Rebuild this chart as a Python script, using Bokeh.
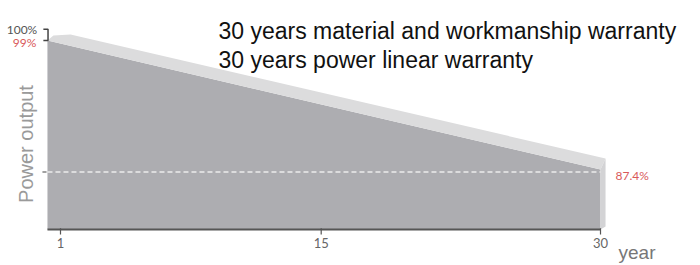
import math
from bokeh.plotting import figure
from bokeh.models import Range1d
from bokeh.core.properties import value
from bokeh.embed import file_html
from bokeh.resources import INLINE

# ---- data ----
tick_years = [1, 15, 30]
tick_labels = ["1", "15", "30"]
edge_year = 0.3          # left edge of the drawn block
end_year = 30
start_power = 99.0       # %
top_power = 100.0        # %
end_power = 87.4         # % guaranteed at year 30
base_power = 82.33       # bottom of the block (axis level)

# block faces (front, top bevel, right bevel)
front_x = [edge_year, end_year, end_year, edge_year]
front_y = [start_power, 87.62, base_power, base_power]
top_x = [edge_year, 0.62, 1.54, 30.27, end_year]
top_y = [start_power, 99.44, 99.53, 88.59, 87.62]
right_x = [end_year, 30.27, 30.27, end_year]
right_y = [87.62, 88.59, 82.59, base_power]

lines_text = ["30 years material and workmanship warranty",
              "30 years power linear warranty"]

# scale: 1 year = 18.621 px, 1 % = 11.336 px; frame = whole canvas
PX_X = 18.621
PX_Y = 11.336
x0 = 1 - 60 / PX_X
x1 = 1 + 640 / PX_X
y1 = 99 + 40 / PX_Y
y0 = 99 - 225 / PX_Y

p = figure(width=700, height=265,
           x_range=Range1d(x0, x1), y_range=Range1d(y0, y1),
           output_backend="svg", toolbar_location=None,
           x_axis_location=None, y_axis_location=None,
           min_border=0, min_border_left=0, min_border_right=0,
           min_border_top=0, min_border_bottom=0)
p.outline_line_color = None
p.xgrid.visible = False
p.ygrid.visible = False
p.background_fill_color = "white"
p.border_fill_color = "white"

# faces
p.patch(front_x, front_y, fill_color="#adadb1", line_color=None)
p.patch(top_x, top_y, fill_color="#dcdcdd", line_color=None)
p.patch(right_x, right_y, fill_color="#d3d3d5", line_color=None)

# dashed guarantee line
p.line([edge_year, end_year], [end_power, end_power], line_color="#ececec",
       line_width=1.5, line_dash="5 3")

# x axis line
p.line([edge_year, end_year], [base_power, base_power], line_color="#555555",
       line_width=2)

# x ticks and labels
p.segment(x0=tick_years, y0=[base_power + 0.1] * 3, x1=tick_years,
          y1=[base_power - 0.45] * 3, line_color="#555555", line_width=1.2)
p.text(x=tick_years, y=[base_power - 1.15] * 3, text=tick_labels,
       text_align="center", text_baseline="middle",
       text_font=value("Lato"), text_font_size="13px", text_color="#666666")

# left small tick at the end-power level
p.segment(x0=[edge_year - 0.27], y0=[end_power], x1=[edge_year - 0.05],
          y1=[end_power], line_color="#444444", line_width=1.2)

# bracket 100% / 99%
p.line([edge_year - 0.22, edge_year + 0.03, edge_year + 0.03, edge_year - 0.22],
       [top_power, top_power, start_power, start_power],
       line_color="#444444", line_width=1.5)

# value labels
p.text(x=[edge_year - 0.55], y=[top_power], text=["100%"], text_align="right",
       text_baseline="middle", text_font=value("Lato"), text_font_size="12px",
       text_color="#555555")
p.text(x=[edge_year - 0.6], y=[start_power], text=["99%"], y_offset=2,
       text_align="right", text_baseline="middle", text_font=value("Lato"),
       text_font_size="12px", text_color="#d9595a")
p.text(x=[end_year], y=[end_power], text=["87.4%"], x_offset=15, y_offset=4,
       text_align="left", text_baseline="middle", text_font=value("Lato"),
       text_font_size="12px", text_color="#d9595a")

# axis titles
p.text(x=[x0], y=[89.87], text=["Power output"], x_offset=25,
       angle=math.pi / 2, text_align="center", text_baseline="middle",
       text_font=value("Liberation Sans"), text_font_size="20px",
       text_color="#9a9a9a")
p.text(x=[end_year], y=[y0], text=["year"], x_offset=18, y_offset=-13,
       text_align="left", text_baseline="middle",
       text_font=value("Liberation Sans"), text_font_size="19px",
       text_color="#777777")

# warranty text
p.text(x=[x0, x0], y=[y1, y1], text=lines_text, x_offset=218,
       y_offset=[30, 59], text_align="left", text_baseline="alphabetic",
       text_font=value("Liberation Sans"), text_font_size="23px",
       text_color="#111111")

open("out.html", "w").write(file_html(p, INLINE))
